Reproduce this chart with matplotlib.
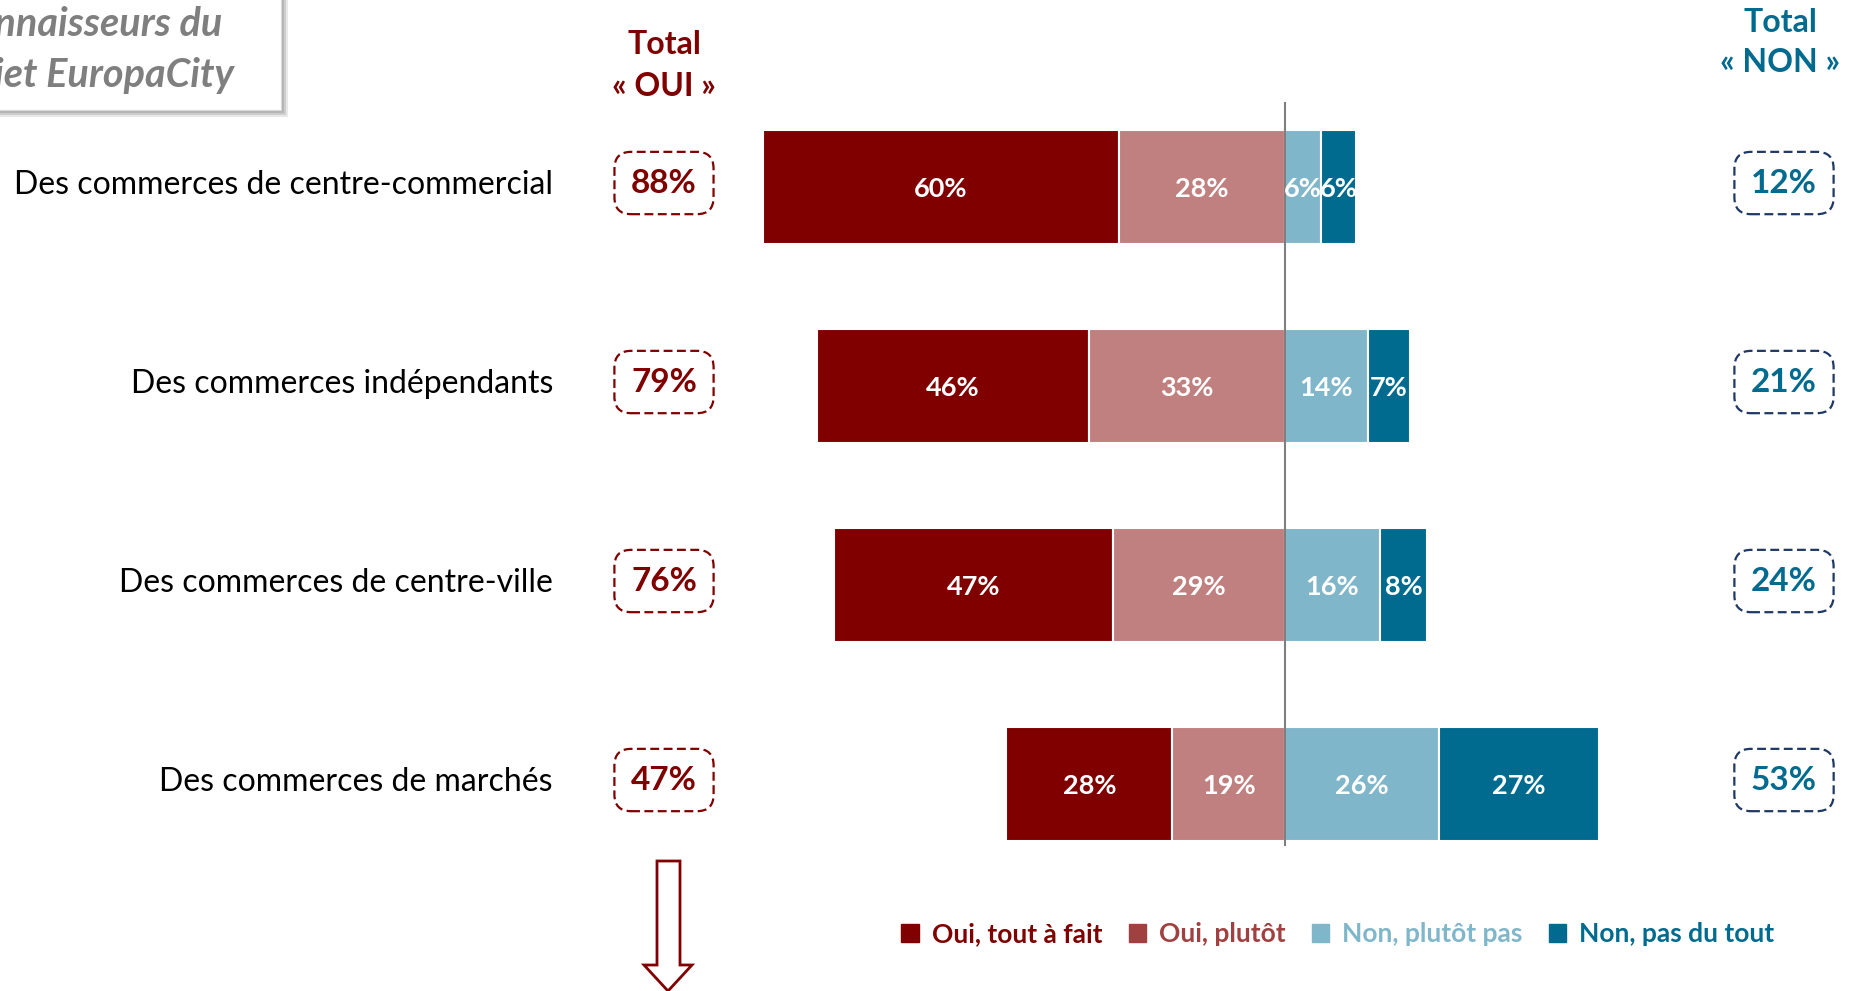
import matplotlib
matplotlib.use("Agg")
from matplotlib import pyplot as plt
from matplotlib.patches import Patch, Rectangle, Polygon

categories = ["Des commerces de centre-commercial", "Des commerces indépendants",
              "Des commerces de centre-ville", "Des commerces de marchés"]
oui_tout = [60, 46, 47, 28]
oui_plutot = [28, 33, 29, 19]
non_plutot = [6, 14, 16, 26]
non_tout = [6, 7, 8, 27]
total_oui = [88, 79, 76, 47]
total_non = [12, 21, 24, 53]
series_names = ["Oui, tout à fait", "Oui, plutôt", "Non, plutôt pas", "Non, pas du tout"]

RED = "#800000"
PINK = "#C08080"
PINK_LEG = "#A04040"
LBLUE = "#80B6C9"
DBLUE = "#006B8F"
NAVY = "#1F3864"

W, H = 1860, 991
PX_PER_PCT = 5.93
ZERO_PX = 1285
ROW0_PX, ROW_STEP = 187, 199

plt.rcParams['font.family'] = ['Lato', 'DejaVu Sans']

fig = plt.figure(figsize=(W / 100, H / 100), dpi=100)
ax = fig.add_axes([0, 0, 1, 1])
ax.set_xlim(-ZERO_PX / PX_PER_PCT, (W - ZERO_PX) / PX_PER_PCT)
ax.set_ylim((H - ROW0_PX) / ROW_STEP, -ROW0_PX / ROW_STEP)
ax.axis("off")


def fx(px):
    return px / W


def fy(py):
    return 1 - py / H


ypos = list(range(len(categories)))
bh = 114 / ROW_STEP
left_a = [-(a + b) for a, b in zip(oui_tout, oui_plutot)]
left_b = [-b for b in oui_plutot]
left_d = non_plutot

segs = [(oui_tout, left_a, RED), (oui_plutot, left_b, PINK),
        (non_plutot, [0] * 4, LBLUE), (non_tout, left_d, DBLUE)]
for vals, lefts, col in segs:
    ax.barh(ypos, vals, left=lefts, height=bh, color=col,
            edgecolor="white", linewidth=1.5)
    for y, v, l in zip(ypos, vals, lefts):
        ax.text(l + v / 2, y + 0.01, f"{v}%", ha="center", va="center",
                color="white", fontsize=19.5, fontweight="bold")

ax.plot([0, 0], [(103 - ROW0_PX) / ROW_STEP, (845 - ROW0_PX) / ROW_STEP],
        color="#7F7F7F", lw=1.5)

# category labels and totals
for y, cat, to, tn in zip(ypos, categories, total_oui, total_non):
    ax.text((553 - ZERO_PX) / PX_PER_PCT, y - 0.01, cat, ha="right", va="center",
            fontsize=23, color="black")
    ax.text((664 - ZERO_PX) / PX_PER_PCT, y - 0.02, f"{to}%", ha="center",
            va="center", fontsize=24, fontweight="bold", color=RED,
            bbox=dict(boxstyle="round,pad=0.5,rounding_size=0.5", fc="none",
                      ec=RED, ls=(0, (4, 2)), lw=1.6))
    ax.text((1784 - ZERO_PX) / PX_PER_PCT, y - 0.02, f"{tn}%", ha="center",
            va="center", fontsize=24, fontweight="bold", color=DBLUE,
            bbox=dict(boxstyle="round,pad=0.5,rounding_size=0.5", fc="none",
                      ec=NAVY, ls=(0, (4, 2)), lw=1.6))

fig.text(fx(664), fy(45), "Total", ha="center", va="center", fontsize=23,
         fontweight="bold", color=RED)
fig.text(fx(664), fy(86), "« OUI »", ha="center", va="center", fontsize=23,
         fontweight="bold", color=RED)
fig.text(fx(1780), fy(22), "Total", ha="center", va="center", fontsize=23,
         fontweight="bold", color=DBLUE)
fig.text(fx(1780), fy(62), "« NON »", ha="center", va="center", fontsize=23,
         fontweight="bold", color=DBLUE)

# top-left title box with soft shadow
for off, a in [(7, 0.25), (5, 0.4), (3, 0.6)]:
    fig.patches.append(Rectangle((fx(-10), fy(110 + off)), fx(291 + off),
                                 (110 + off) / H + 0.02,
                                 transform=fig.transFigure, fc="#A6A6A6",
                                 ec="none", alpha=a, zorder=1))
fig.patches.append(Rectangle((fx(-10), fy(110)), fx(291), 110 / H + 0.02,
                             transform=fig.transFigure, fc="white", ec="#D9D9D9",
                             lw=0.8, zorder=2))
fig.text(fx(222), fy(24), "Connaisseurs du", ha="right", va="center",
         fontsize=28.5, fontweight="bold", style="italic", color="#7F7F7F", zorder=3)
fig.text(fx(234), fy(75), "projet EuropaCity", ha="right", va="center",
         fontsize=28.5, fontweight="bold", style="italic", color="#7F7F7F", zorder=3)

# down arrow under total OUI
arrow = [(657, 861), (680, 861), (680, 965), (692, 965), (668, 991),
         (644, 965), (657, 965)]
fig.patches.append(Polygon([(fx(x), fy(y)) for x, y in arrow], closed=True,
                           transform=fig.transFigure, fc="white", ec=RED, lw=2))

# legend
leg_cols = [RED, PINK_LEG, LBLUE, DBLUE]
handles = [Patch(color=c, label=n) for c, n in zip(leg_cols, series_names)]
fig.legend(handles=handles, loc="center", bbox_to_anchor=(fx(1338), fy(934)),
           ncol=4, frameon=False, labelcolor=leg_cols,
           handlelength=0.65, handleheight=0.65, handletextpad=0.5,
           columnspacing=1.0, prop={"weight": "bold", "size": 19})

fig.savefig("out.png", dpi=100)
